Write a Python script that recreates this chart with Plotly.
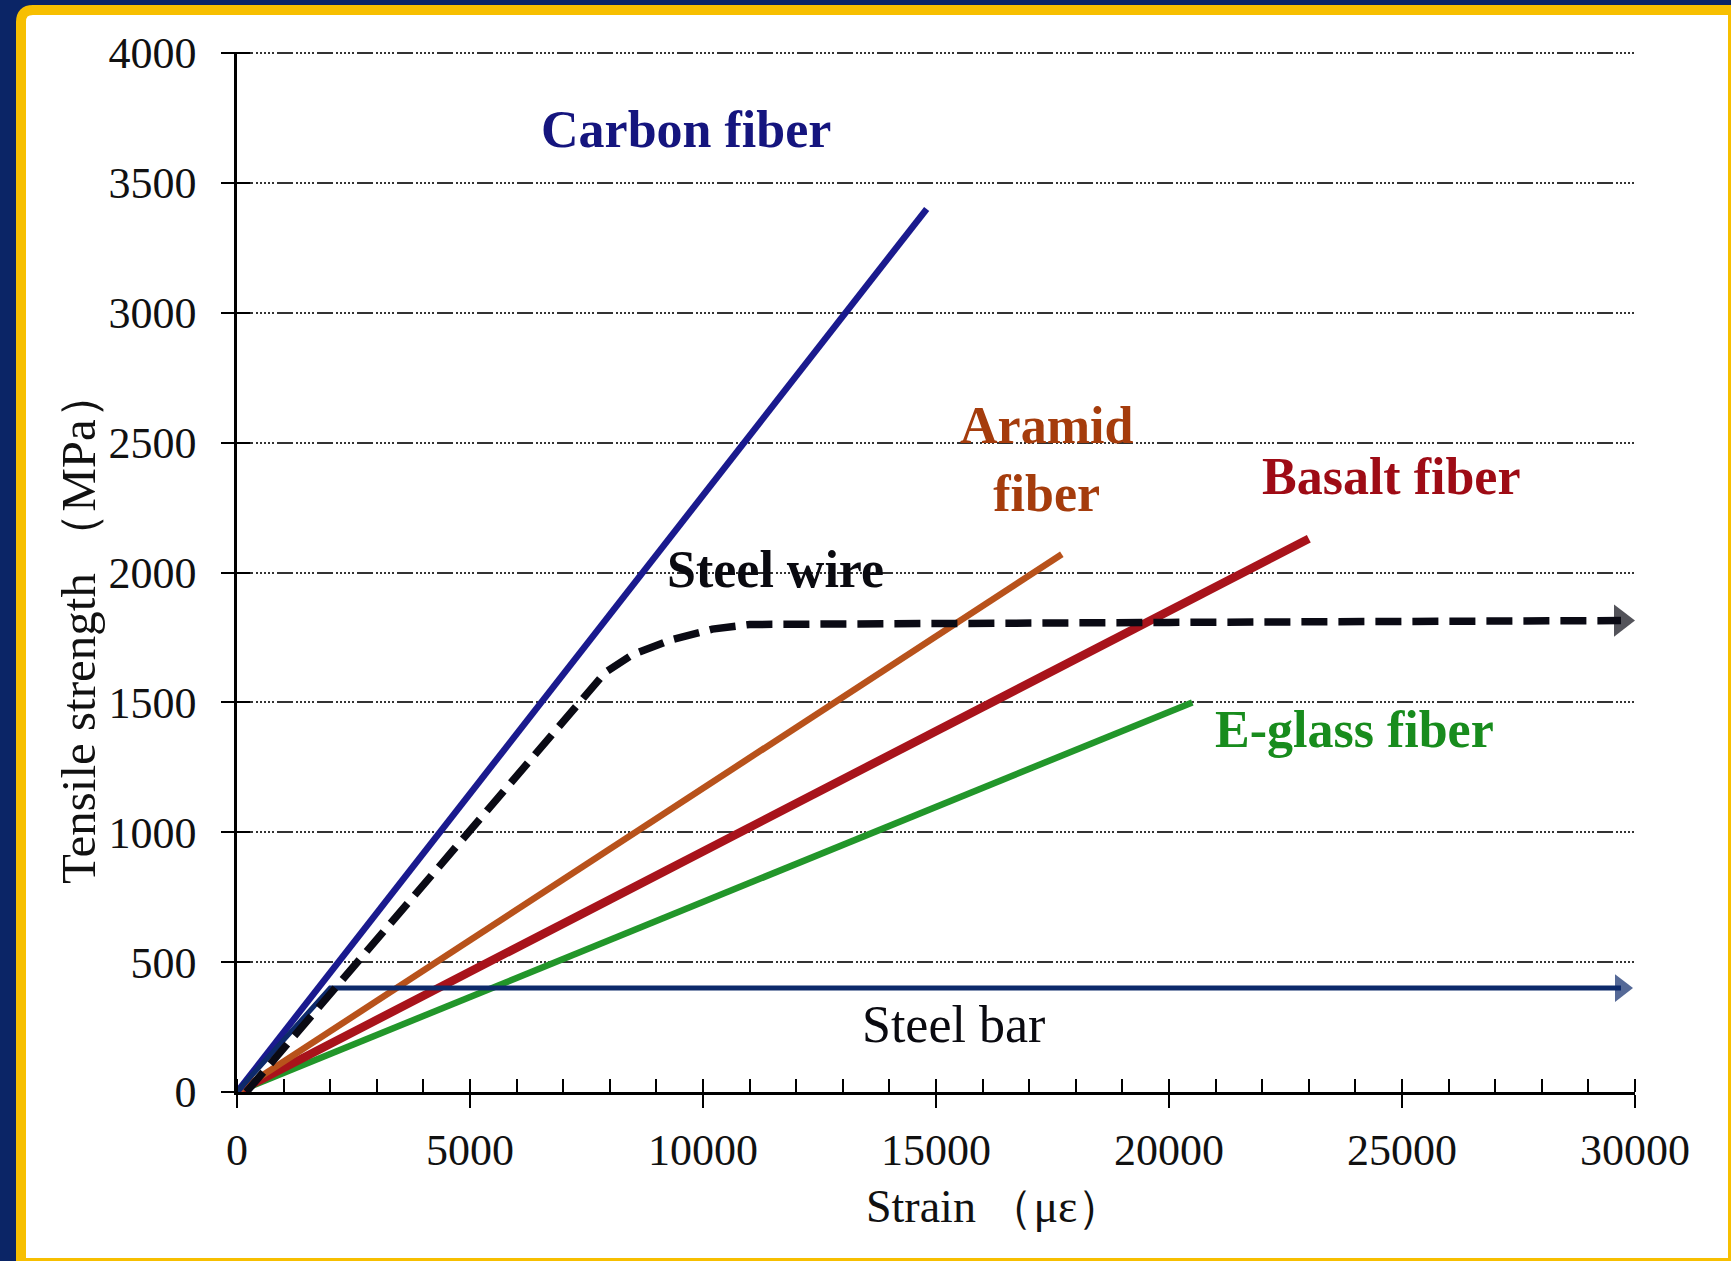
import plotly.graph_objects as go

# ---------------- data ----------------
carbon_x = [0, 14800]
carbon_y = [0, 3400]
aramid_x = [0, 17700]
aramid_y = [0, 2070]
basalt_x = [0, 23000]
basalt_y = [0, 2130]
eglass_x = [0, 20500]
eglass_y = [0, 1500]
steelwire_x = [200, 7500, 7900, 8500, 9300, 10200, 11000, 20000, 29700]
steelwire_y = [0, 1540, 1615, 1685, 1740, 1782, 1800, 1808, 1815]
steelbar_x = [0, 2000, 29700]
steelbar_y = [0, 400, 400]

x_ticks = [0, 5000, 10000, 15000, 20000, 25000, 30000]
x_tick_text = ["0", "5000", "10000", "15000", "20000", "25000", "30000"]
y_ticks = [0, 500, 1000, 1500, 2000, 2500, 3000, 3500, 4000]
y_tick_text = ["0", "500", "1000", "1500", "2000", "2500", "3000", "3500", "4000"]

W, H = 1731, 1261
L, R, T, B = 237, 1635, 53, 1092   # plot area (x=0..30000, y=0..4000) in pixels
Y_TOP = 4004                       # small headroom so the 4000 grid line is drawn
T_M = B - (B - T) * Y_TOP / 4000


def xp(px):
    return (px - L) / (R - L)


def yp(py):
    return (B - py) / (B - T_M)


def px2x(px):
    return (px - L) / (R - L) * 30000


def py2y(py):
    return (B - py) / (B - T) * 4000


SERIF = "Liberation Serif, Times New Roman, serif"

fig = go.Figure()

fig.add_trace(go.Scatter(x=eglass_x, y=eglass_y, mode="lines",
                         line=dict(color="#22962a", width=6.5), showlegend=False))
fig.add_trace(go.Scatter(x=basalt_x, y=basalt_y, mode="lines",
                         line=dict(color="#a8131b", width=8.5), showlegend=False))
fig.add_trace(go.Scatter(x=aramid_x, y=aramid_y, mode="lines",
                         line=dict(color="#b8521b", width=6.5), showlegend=False))
fig.add_trace(go.Scatter(x=carbon_x, y=carbon_y, mode="lines",
                         line=dict(color="#1a1a8e", width=6.5), showlegend=False))
n_bar = len(steelbar_x)
fig.add_trace(go.Scatter(x=steelbar_x, y=steelbar_y, mode="lines+markers",
                         line=dict(color="#0d2a6b", width=5),
                         marker=dict(symbol="triangle-right", color="#0d2a6b",
                                     line=dict(width=0),
                                     size=[0] * (n_bar - 1) + [24]),
                         showlegend=False))
n_wire = len(steelwire_x)
fig.add_trace(go.Scatter(x=steelwire_x, y=steelwire_y, mode="lines+markers",
                         line=dict(color="#0a0a14", width=7.5, dash="26px,11px"),
                         marker=dict(symbol="triangle-right", color="#0a0a14",
                                     line=dict(width=0),
                                     size=[0] * (n_wire - 1) + [28]),
                         showlegend=False))
# helper trace for the overlay axes (inside halves of crossing ticks)
fig.add_trace(go.Scatter(x=[], y=[], xaxis="x2", yaxis="y2", showlegend=False))

# ---------------- labels ----------------
labels = [
    ("<b>Carbon fiber</b>", 686, 129, "#15157e"),
    ("<b>Aramid</b><br><b>fiber</b>", 1046, 459, "#a53c0c"),
    ("<b>Basalt fiber</b>", 1391, 476, "#9e0b15"),
    ("<b>E-glass fiber</b>", 1354, 729, "#188c1d"),
    ("<b>Steel wire</b>", 775, 569, "#0a0a10"),
    ("Steel bar", 953, 1024, "#0a0a10"),
]
for txt, px, py, col in labels:
    fig.add_annotation(x=px2x(px), y=py2y(py), text=txt, showarrow=False,
                       font=dict(family=SERIF, size=52, color=col),
                       xanchor="center", yanchor="middle")

fig.add_annotation(xref="paper", yref="paper", x=xp(78), y=yp(627),
                   text="Tensile strength （MPa）", textangle=-90, showarrow=False,
                   font=dict(family=SERIF, size=49, color="#111111"),
                   xanchor="center", yanchor="middle")
fig.add_annotation(xref="paper", yref="paper", x=xp(994), y=yp(1207),
                   text="Strain （με）", showarrow=False,
                   font=dict(family=SERIF, size=46, color="#111111"),
                   xanchor="center", yanchor="middle")

# ---------------- frame ----------------
x0, y0, x1, y1, r = xp(21), yp(10), xp(1733), yp(1263), 12
path = (f"M {xp(21)},{yp(10 + r)} Q {xp(21)},{yp(10)} {xp(21 + r)},{yp(10)} "
        f"L {x1},{y0} L {x1},{y1} L {x0},{y1} Z")
fig.add_shape(type="path", xref="paper", yref="paper", path=path,
              line=dict(color="#f7bf00", width=10), fillcolor="white", layer="below")

grid_dash = "16px,3px,2px,2px,2px,2px,2px,2px,2px,2px,2px,3px"

fig.update_layout(
    width=W, height=H, autosize=False,
    margin=dict(l=L, r=W - R, t=T_M, b=H - B, pad=0),
    paper_bgcolor="#0b2566",
    plot_bgcolor="white",
    font=dict(family=SERIF, color="#111111"),
    xaxis=dict(range=[0, 30000], tickvals=x_ticks, ticktext=x_tick_text,
               ticks="outside", ticklen=13,
               tickwidth=2, tickcolor="black", showline=True, linecolor="black",
               linewidth=2.5, showgrid=False, zeroline=False,
               tickfont=dict(family=SERIF, size=44, color="#111111"),
               ticklabelstandoff=4,
               minor=dict(dtick=1000, ticks="inside", ticklen=13, tickwidth=2,
                          tickcolor="black", showgrid=False)),
    yaxis=dict(range=[0, Y_TOP], tickvals=y_ticks, ticktext=y_tick_text,
               ticks="outside", ticklen=13,
               tickwidth=2, tickcolor="black", showline=True, linecolor="black",
               linewidth=2.5, showgrid=True, gridcolor="#333333", gridwidth=1.5,
               griddash=grid_dash, zeroline=False,
               tickfont=dict(family=SERIF, size=44, color="#111111"),
               ticklabelstandoff=16),
    xaxis2=dict(range=[0, 30000], overlaying="x", anchor="y", side="bottom",
                tickvals=x_ticks, ticks="inside", ticklen=13, tickwidth=2,
                tickcolor="black", showticklabels=False, showgrid=False,
                zeroline=False, showline=False),
    yaxis2=dict(range=[0, Y_TOP], overlaying="y", anchor="x", side="left",
                tickvals=y_ticks, ticks="inside", ticklen=13, tickwidth=2,
                tickcolor="black", showticklabels=False, showgrid=False,
                zeroline=False, showline=False),
)

fig.write_html("out.html", config={"displayModeBar": False},
               post_script="document.body.style.margin='0';")
